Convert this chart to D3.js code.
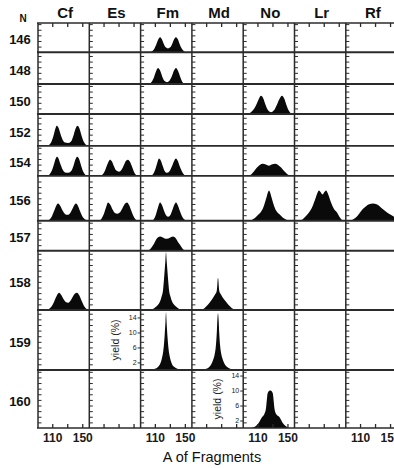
<!DOCTYPE html>
<html>
<head>
<meta charset="utf-8">
<script src="https://cdn.jsdelivr.net/npm/d3@7"></script>
<style>
  html, body { margin: 0; padding: 0; background: #fff; }
  svg { display: block; }
</style>
</head>
<body>
<div id="chart"></div>
<script>
// columns = element, rows = neutron number N
const elements = ['Cf', 'Es', 'Fm', 'Md', 'No', 'Lr', 'Rf'];
const neutrons = [146, 148, 150, 152, 154, 156, 157, 158, 159, 160];
const rowMaxYield = [7.8, 8.5, 8, 8.5, 8, 12, 8, 15.8, 16, 15.5];   // yield (%) span of each row
const massDomain = [91, 159.4];
const massTicks = [110, 130, 150];
const massTickLabels = [110, 150];
const massLabelCols = ['Cf', 'Fm', 'No', 'Rf'];
const yieldMinorStep = 1.5;
const yieldTicks = [2, 6, 10, 14];
const yieldAxisCols = ['Fm', 'No'];
const yieldAxisRows = [159, 160];

// mass yield distributions, [A, yield %]
const cf152 = [[103,0],[106,0.3],[109,1.2],[112,3.0],[114,4.5],[116,5.4],[118,5.0],[121,3.2],[124,1.6],[127,0.9],[131,0.8],[135,1.2],[138,2.6],[141,4.6],[143.5,5.4],[146,4.8],[149,2.8],[152,1.1],[155,0.3],[158,0]];
const cf154 = [[103,0],[106,0.3],[109,1.2],[112,2.9],[114,4.3],[116.3,5.1],[118,4.8],[121,3.1],[124,1.6],[127,0.9],[131,0.8],[135,1.2],[138,2.5],[141,4.4],[143,5.1],[145.5,4.6],[148.5,2.7],[151.5,1.0],[154,0.3],[156.5,0]];
const cf156 = [[103,0],[106,0.3],[109,1.0],[112,2.4],[115,3.9],[117.7,4.6],[120,4.2],[123,3.0],[126,2.0],[129,1.6],[131,1.6],[134,2.1],[137,3.2],[139.5,4.2],[141.7,4.6],[144,4.1],[147,2.6],[150,1.2],[153.5,0.4],[157.5,0]];
const cf158 = [[103,0],[106,0.3],[109,0.9],[112,2.0],[115,3.4],[119,4.6],[122,4.0],[125,2.9],[128,2.1],[131,1.9],[134,2.4],[137,3.4],[140,4.3],[143,4.6],[146,3.9],[149,2.5],[152,1.2],[155,0.4],[158,0]];
const es154 = [[106,0],[109,0.4],[112,1.4],[115,3.0],[118.6,4.3],[121,3.9],[124,2.5],[127,1.4],[130.6,1.1],[134,1.6],[137,2.8],[140,4.0],[142.6,4.3],[145,3.8],[148,2.4],[151,0.9],[154.6,0]];
const es156 = [[104,0],[107,0.5],[110,1.6],[113,3.4],[116,4.9],[119,4.3],[122,3.0],[125,2.1],[128.5,1.9],[132,2.3],[135,3.3],[138,4.4],[141.3,4.9],[144,4.2],[147,2.7],[150,1.2],[152.5,0.4],[154.6,0]];
const fm146 = [[103.5,0],[106.5,0.3],[109.5,1.0],[112.5,2.4],[115,3.6],[116.9,4.0],[119,3.6],[121.5,2.4],[124.5,1.3],[127.5,1.0],[130.5,1.3],[133.5,2.4],[136,3.6],[138.2,4.0],[140.5,3.5],[143,2.2],[146,0.9],[148.5,0.3],[150.2,0]];
const fm148 = [[102.2,0],[105,0.4],[108,1.4],[111,3.1],[114.2,4.3],[117,3.6],[120,1.9],[123,0.8],[126.2,0.5],[129.5,0.9],[132.5,2.0],[135.5,3.6],[138.2,4.3],[141,3.5],[144,1.8],[146.5,0.6],[148.9,0]];
const fm154 = [[104.9,0],[107.5,0.4],[110,1.4],[113,3.3],[115.5,4.6],[118,4.0],[120.5,2.6],[123,1.3],[126.2,0.8],[129.5,1.2],[132.5,2.4],[135.5,3.9],[138.2,4.6],[140.5,4.0],[143,2.6],[146,1.2],[148.5,0.4],[150.2,0]];
const fm156 = [[106.2,0],[108.5,0.4],[111,1.4],[114,3.4],[116.9,4.9],[119.5,4.2],[122,2.8],[124.5,1.6],[127.5,1.1],[130.5,1.5],[133,2.7],[135.5,4.1],[138.2,4.9],[140.5,4.2],[143,2.8],[146,1.3],[149,0.4],[151.5,0]];
const fm157 = [[100.5,0],[104,0.5],[108,1.6],[112,3.1],[116.9,3.8],[120,3.6],[123,3.3],[126.2,3.2],[129.5,3.4],[134.2,3.8],[138,3.3],[141,2.3],[143.5,1.6],[146.5,0.7],[150.2,0]];
const fm158 = [[102,0],[108,0.3],[110,0.6],[114,1.3],[117,2.3],[119,3.6],[121,5.5],[122.5,9],[124,13],[124.9,15.4],[125.8,13],[127.3,9],[128.8,5.5],[130.8,3.6],[132.8,2.3],[136,1.3],[140,0.6],[143,0.2],[147.5,0]];
const fm159 = [[106,0],[110,0.3],[114,0.8],[117,1.6],[119.5,3.2],[121.5,5.5],[123,9],[124.2,13],[124.9,15.4],[125.6,13],[126.8,9],[128.3,5.5],[130.3,3.2],[132.8,1.6],[136,0.8],[140,0.3],[143.5,0]];
const md158 = [[104.5,0],[108,0.5],[112,1.3],[116,2.3],[119,3.2],[122,4.2],[124,5],[124.8,6.5],[125.3,8],[125.8,8.6],[126.3,8],[126.8,6.5],[127.6,5],[129.6,4.2],[132.5,3.2],[136,2.3],[140,1.3],[144,0.5],[148.5,0]];
const md159 = [[105.8,0],[110,0.3],[114,0.8],[117,1.6],[119.5,2.8],[121.5,4.3],[123,6.5],[124.2,10],[125,13.5],[125.8,15.1],[126.6,13.5],[127.4,10],[128.6,6.5],[130.1,4.3],[132.1,2.8],[134.6,1.6],[138,0.8],[142,0.3],[145.8,0]];
const no150 = [[96,0],[100,0.3],[104,1.0],[108,2.3],[111.5,3.9],[114.7,4.9],[117.5,4.3],[120.5,2.6],[123.5,1.2],[128,0.5],[132,1.0],[135.5,2.3],[139,3.9],[142.7,4.9],[145.5,4.2],[148.5,2.5],[151.5,1.0],[154,0.3],[156,0]];
const no154 = [[98.7,0],[102,0.4],[105.5,1.2],[109.4,2.2],[113,2.9],[117.4,3.2],[121,3.0],[125.4,2.7],[129,3.0],[133.4,3.2],[137.5,2.9],[141.5,2.2],[145.5,1.3],[149.5,0.5],[153.4,0]];
const no156 = [[98.7,0],[103,0.3],[107,0.8],[111,1.6],[114.7,2.4],[117.5,3.4],[120,4.9],[122,6.2],[123.8,7.5],[125.4,8.1],[127,7.5],[128.8,6.2],[130.7,4.9],[133.2,3.4],[136,2.4],[140,1.6],[144,0.8],[148.5,0.3],[153.4,0]];
const no160 = [[102,0],[107,0.4],[111,1.2],[116,2.9],[119.5,3.9],[121.5,5.5],[122.5,7.5],[123.5,9.2],[125.5,9.9],[127,10],[128.5,9.9],[130.5,9.2],[131.5,7.5],[132.5,5.5],[134.5,3.9],[139.5,2.9],[144,1.3],[148,0.5],[153,0]];
const lr156 = [[98.3,0],[102,0.4],[106,1.2],[110.3,2.2],[113.5,3.2],[117,4.9],[119.5,6.3],[121.5,7.4],[123.7,8.1],[126,7.6],[128.3,7.0],[130.6,7.6],[133,8.1],[135.2,7.4],[137.3,6.3],[139.7,4.9],[143.5,3.2],[147.7,2.2],[151.5,0.9],[155.7,0]];
const rf156 = [[96.6,0],[100,0.3],[104,0.8],[107,1.4],[110,2.2],[114,3.2],[118,3.9],[122,4.4],[127.3,4.6],[132,4.4],[136,3.9],[141,3.0],[146,2.2],[151,1.6],[155.3,1.1],[160,0.5],[166,0]];

const distributions = [
  { el: 'Cf', n: 152, pts: cf152 }, { el: 'Cf', n: 154, pts: cf154 },
  { el: 'Cf', n: 156, pts: cf156 }, { el: 'Cf', n: 158, pts: cf158 },
  { el: 'Es', n: 154, pts: es154 }, { el: 'Es', n: 156, pts: es156 },
  { el: 'Fm', n: 146, pts: fm146 }, { el: 'Fm', n: 148, pts: fm148 },
  { el: 'Fm', n: 154, pts: fm154 }, { el: 'Fm', n: 156, pts: fm156 },
  { el: 'Fm', n: 157, pts: fm157 }, { el: 'Fm', n: 158, pts: fm158 },
  { el: 'Fm', n: 159, pts: fm159 },
  { el: 'Md', n: 158, pts: md158 }, { el: 'Md', n: 159, pts: md159 },
  { el: 'No', n: 150, pts: no150 }, { el: 'No', n: 154, pts: no154 },
  { el: 'No', n: 156, pts: no156 }, { el: 'No', n: 160, pts: no160 },
  { el: 'Lr', n: 156, pts: lr156 }, { el: 'Rf', n: 156, pts: rf156 }
];

const width = 394, height = 468;
const margin = { top: 23, left: 38, bottom: 40 };
const colStep = 51.3;
const lineColor = '#2b2b2b';
const font = '"Liberation Sans", Arial, sans-serif';

const svg = d3.select('#chart').append('svg')
  .attr('width', width)
  .attr('height', height)
  .style('font-family', font);

svg.append('rect').attr('width', width).attr('height', height).attr('fill', '#fff');

const col = d3.scaleBand()
  .domain(elements)
  .range([margin.left, margin.left + colStep * elements.length]);

const gridBottom = height - margin.bottom;
const stack = d3.scaleLinear()
  .domain([0, d3.sum(rowMaxYield)])
  .range([margin.top, gridBottom]);

const rows = neutrons.map((n, i) => {
  const start = d3.sum(rowMaxYield.slice(0, i));
  const top = stack(start);
  const bottom = stack(start + rowMaxYield[i]);
  return {
    n, max: rowMaxYield[i], top, bottom,
    y: d3.scaleLinear().domain([0, rowMaxYield[i]]).range([bottom, top])
  };
});
const rowOf = n => rows.find(r => r.n === n);

const massScale = el => d3.scaleLinear()
  .domain(massDomain)
  .range([col(el), col(el) + col.bandwidth()]);

// filled yield curves
const curves = svg.append('g');
distributions.forEach(d => {
  const x = massScale(d.el);
  const r = rowOf(d.n);
  const area = d3.area()
    .x(p => x(p[0]))
    .y0(r.bottom)
    .y1(p => r.y(p[1]))
    .curve(d3.curveMonotoneX);
  curves.append('path')
    .datum(d.pts)
    .attr('d', area)
    .attr('fill', '#0a0a0a');
});

// minor yield ticks on the left edge of every cell
elements.forEach(el => {
  rows.forEach(r => {
    const g = svg.append('g')
      .attr('transform', `translate(${col(el)},0)`)
      .call(d3.axisRight(r.y)
        .tickValues(d3.range(yieldMinorStep, r.max, yieldMinorStep))
        .tickSize(3.5)
        .tickFormat(''));
    g.select('.domain').remove();
    g.selectAll('line').attr('stroke', lineColor).attr('stroke-width', 1);
  });

  // mass ticks top and bottom
  const x = massScale(el);
  const top = svg.append('g')
    .attr('transform', `translate(0,${margin.top})`)
    .call(d3.axisTop(x).tickValues(massTicks).tickSize(-4).tickFormat(''));
  top.select('.domain').remove();
  top.selectAll('line').attr('stroke', lineColor).attr('stroke-width', 1.3);

  const showLabels = massLabelCols.includes(el);
  const bottom = svg.append('g')
    .attr('transform', `translate(0,${gridBottom})`)
    .call(d3.axisBottom(x).tickValues(massTicks).tickSize(-4).tickPadding(5)
      .tickFormat(v => showLabels && massTickLabels.includes(v) ? v : ''));
  bottom.select('.domain').remove();
  bottom.selectAll('line').attr('stroke', lineColor).attr('stroke-width', 1.3);
  bottom.selectAll('text')
    .attr('fill', '#1a1a1a')
    .style('font-family', font)
    .style('font-size', '12px')
    .style('font-weight', 'bold');
});

// grid lines
const gridRight = width;
svg.append('g').selectAll('line')
  .data(rows.map(r => r.top).concat([gridBottom]))
  .join('line')
  .attr('x1', margin.left - 1).attr('x2', gridRight)
  .attr('y1', d => d).attr('y2', d => d)
  .attr('stroke', lineColor)
  .attr('stroke-width', (d, i) => i === 0 || i === rows.length ? 1.5 : 1.9);

svg.append('g').selectAll('line')
  .data(elements)
  .join('line')
  .attr('x1', d => col(d)).attr('x2', d => col(d))
  .attr('y1', margin.top).attr('y2', gridBottom)
  .attr('stroke', lineColor)
  .attr('stroke-width', 1.5);

// labelled yield axes
yieldAxisCols.forEach((el, i) => {
  const r = rowOf(yieldAxisRows[i]);
  const g = svg.append('g')
    .attr('transform', `translate(${col(el)},0)`)
    .call(d3.axisLeft(r.y).tickValues(yieldTicks).tickSize(3).tickPadding(1));
  g.select('.domain').remove();
  g.selectAll('line').attr('stroke', lineColor);
  g.selectAll('text')
    .attr('fill', '#1a1a1a')
    .style('font-family', font)
    .style('font-size', '7px');
  svg.append('text')
    .attr('transform', `translate(${col(el) - 25.5},${(r.top + r.bottom) / 2}) rotate(-90)`)
    .attr('text-anchor', 'middle')
    .attr('dy', '0.35em')
    .attr('fill', '#1a1a1a')
    .style('font-size', '10.5px')
    .text('yield (%)');
});

// column headers
svg.append('g').selectAll('text')
  .data(elements)
  .join('text')
  .attr('x', d => col(d) + col.bandwidth() / 2 + 1.5)
  .attr('y', 18)
  .attr('text-anchor', 'middle')
  .attr('fill', '#111')
  .style('font-size', '15px')
  .style('font-weight', 'bold')
  .text(d => d);

// row labels
svg.append('text')
  .attr('x', 23).attr('y', 22)
  .attr('text-anchor', 'middle')
  .attr('fill', '#111')
  .style('font-size', '10px')
  .style('font-weight', 'bold')
  .text('N');

svg.append('g').selectAll('text')
  .data(rows)
  .join('text')
  .attr('x', 20)
  .attr('y', r => (r.top + r.bottom) / 2 + 2)
  .attr('dy', '0.35em')
  .attr('text-anchor', 'middle')
  .attr('fill', '#111')
  .style('font-size', '13px')
  .style('font-weight', 'bold')
  .text(r => r.n);

// x title
svg.append('text')
  .attr('x', 212).attr('y', 462)
  .attr('text-anchor', 'middle')
  .attr('fill', '#111')
  .style('font-size', '14.5px')
  .text('A of Fragments');
</script>
</body>
</html>
